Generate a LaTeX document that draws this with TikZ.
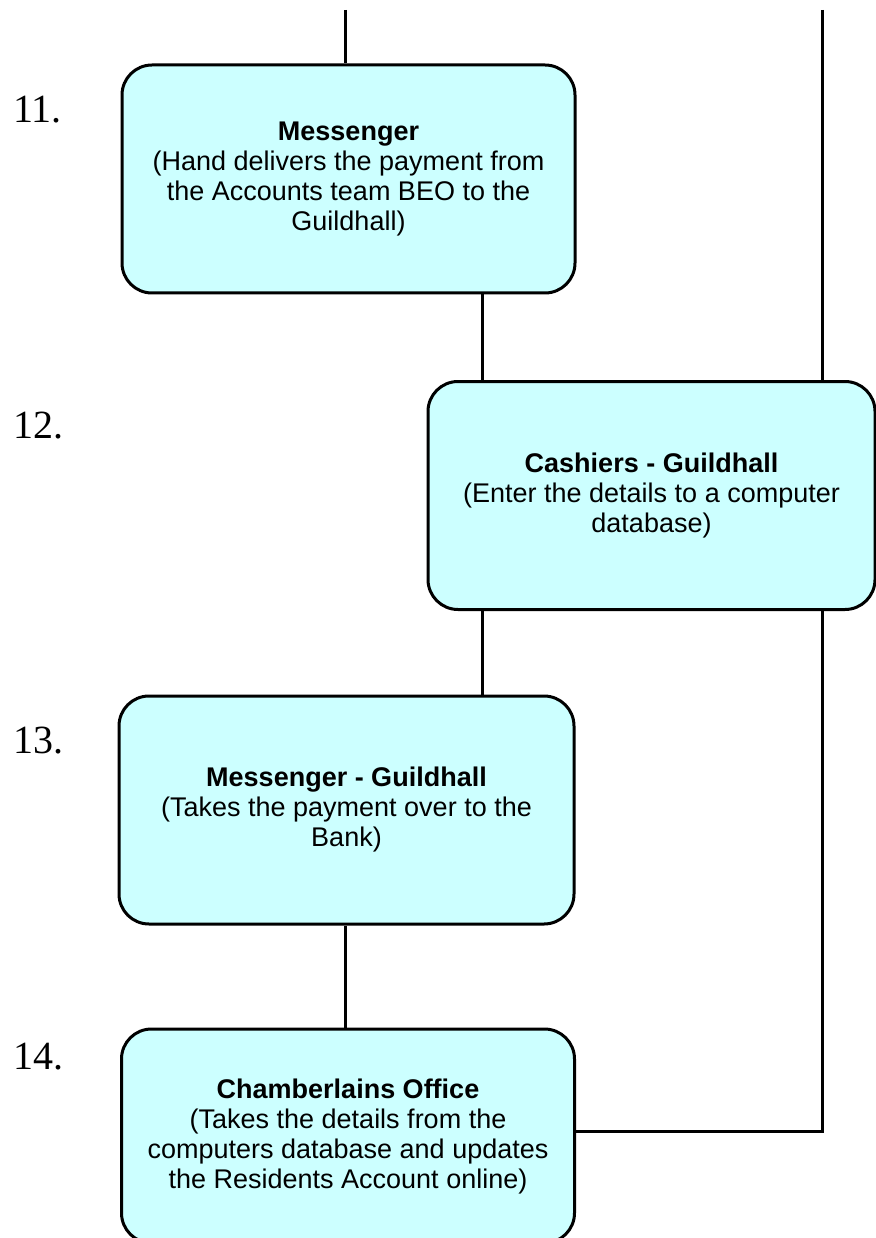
\documentclass[tikz,border=0pt]{standalone}
\usepackage{fontspec}
\setmainfont{Liberation Sans}
\newfontfamily\numfont{Liberation Serif}
\definecolor{boxcyan}{HTML}{CCFFFF}
\tikzset{
  stage/.style={draw=black, line width=3pt, fill=boxcyan, rounded corners=30pt,
    minimum width=453pt, minimum height=228pt, inner sep=0pt, align=center,
    font=\fontsize{27}{30}\selectfont},
  stepnum/.style={anchor=base west, inner sep=0pt, font=\numfont\fontsize{40}{40}\selectfont},
  link/.style={line width=3pt}
}
\begin{document}
\begin{tikzpicture}[x=1pt,y=-1pt]
\useasboundingbox (0,0) rectangle (875,1238);
\node[stepnum] (n11) at (13,123) {11.};
\node[stepnum] (n12) at (13,438) {12.};
\node[stepnum] (n13) at (13,753) {13.};
\node[stepnum] (n14) at (13,1069) {14.};
\node[stage] (s11) at (348.5,179) {\textbf{Messenger}\\(Hand delivers the payment from\\the Accounts team BEO to the\\Guildhall)};
\node[stage, minimum width=447pt] (s12) at (651.5,495.5) {\textbf{Cashiers - Guildhall}\\(Enter the details to a computer\\database)};
\node[stage, minimum width=455pt] (s13) at (346.5,810) {\textbf{Messenger - Guildhall}\\(Takes the payment over to the\\Bank)};
\node[stage, minimum height=214pt] (s14) at (348,1136) {\textbf{Chamberlains Office}\\(Takes the details from the\\computers database and updates\\the Residents Account online)};
\coordinate (top1) at (345,10);
\coordinate (top2) at (822,10);
\coordinate (mid) at (482,0);
\draw[link] (top1) -- (top1 |- s11.north);
\draw[link] (top2) -- (top2 |- s12.north);
\draw[link] (s11.south -| mid) -- (s12.north -| mid);
\draw[link] (s12.south -| mid) -- (s13.north -| mid);
\draw[link] (s13.south -| top1) -- (s14.north -| top1);
\draw[link] (s12.south -| top2) |- ([yshift=5pt]s14.east);
\end{tikzpicture}
\end{document}
